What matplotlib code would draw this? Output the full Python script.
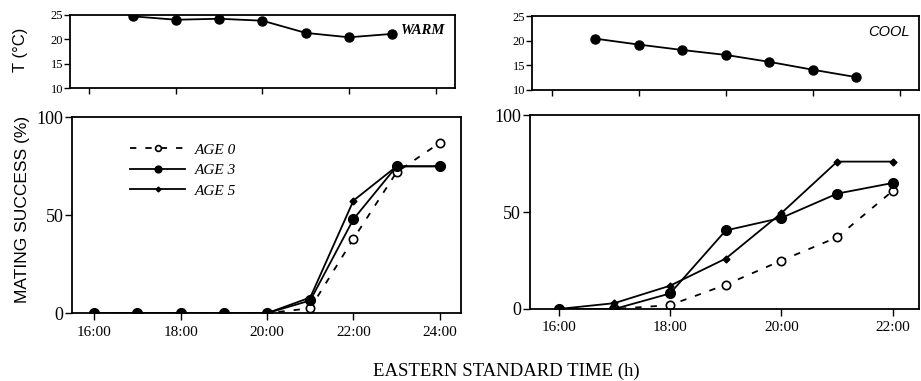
import numpy as np
import matplotlib
matplotlib.use('Agg')
import matplotlib.pyplot as plt

# temperaturas (horas 17..23)
temp_hours = [17, 18, 19, 20, 21, 22, 23]
temp_warm = [24.7, 24.0, 24.2, 23.8, 21.3, 20.4, 21.1]
temp_cool = [20.4, 19.2, 18.1, 17.1, 15.7, 14.1, 12.6]

# exito de apareamiento, ensayo calido (16..24 h)
warm_hours = [16, 17, 18, 19, 20, 21, 22, 23, 24]
warm_age0 = [0, 0, 0, 0, 0, 2.5, 38, 72, 87]
warm_age3 = [0, 0, 0, 0, 0, 6.5, 48, 75, 75]
warm_age5 = [0, 0, 0, 0, 0, 8, 57.5, 75, 75]

# ensayo frio (16..22 h)
cool_hours = [16, 17, 18, 19, 20, 21, 22]
cool_age0 = [0, 0, 2, 12.5, 25, 37, 61]
cool_age3 = [0, 0, 8, 40.5, 47, 59.5, 65]
cool_age5 = [0, 3, 12, 26, 49.5, 76, 76]

tick_hours = [16, 18, 20, 22, 24]
tick_labels = ['16:00', '18:00', '20:00', '22:00', '24:00']

serif = 'Liberation Serif'
sans = 'Liberation Sans'
plt.rcParams['font.family'] = serif
plt.rcParams['axes.linewidth'] = 1.3

fig = plt.figure(figsize=(9.21, 3.81), dpi=100)

ax_tw = fig.add_axes([0.076, 0.769, 0.418, 0.192])
ax_tc = fig.add_axes([0.578, 0.764, 0.420, 0.194])
ax_w = fig.add_axes([0.078, 0.178, 0.423, 0.514])
ax_c = fig.add_axes([0.575, 0.189, 0.423, 0.509])

# paneles de temperatura
for ax, temps, name in [(ax_tw, temp_warm, 'WARM'), (ax_tc, temp_cool, 'COOL')]:
    ax.plot(temp_hours, temps, color='black', lw=1.3, marker='o', ms=6.5)
    ax.set_xlim(15.55, 24.45)
    ax.set_ylim(10, 25)
    ax.set_yticks([10, 15, 20, 25])
    ax.set_xticks(tick_hours)
    ax.set_xticklabels([])
    ax.tick_params(labelsize=9, length=4, width=1, direction='out', pad=1)
    ax.text(0.975, 0.79, name, transform=ax.transAxes, ha='right', va='center',
            fontsize=10.5, style='italic', fontweight='bold' if name == 'WARM' else 'normal',
            family=serif if name == 'WARM' else sans)

dash = (0, (3.5, 5))

def panel(ax, hours, a0, a3, a5, xmax, labels):
    ax.plot(hours, a0, color='black', lw=1.3, ls=dash, marker='o', ms=6,
            mfc='white', mec='black', mew=1.2, label='AGE 0')
    ax.plot(hours, a3, color='black', lw=1.3, marker='o', ms=7, label='AGE 3')
    ax.plot(hours, a5, color='black', lw=1.3, marker='D', ms=3.5, label='AGE 5')
    ax.set_xlim(15.48, xmax)
    ax.set_ylim(0, 100)
    ax.set_yticks([0, 50, 100])
    ax.set_xticks(tick_hours[:len(labels)])
    ax.set_xticklabels(labels)
    ax.tick_params(axis='y', labelsize=13, length=5, width=1, pad=1)
    ax.tick_params(axis='x', labelsize=11, length=5, width=1, pad=4)

panel(ax_w, warm_hours, warm_age0, warm_age3, warm_age5, 24.5, tick_labels)
panel(ax_c, cool_hours, cool_age0, cool_age3, cool_age5, 22.47, tick_labels[:4])

leg = ax_w.legend(loc='upper left', bbox_to_anchor=(0.115, 0.94), frameon=False,
                  handlelength=3.6, handletextpad=0.6, labelspacing=0.45,
                  markerscale=0.7, prop={'family': serif, 'style': 'italic', 'size': 11})

fig.text(0.022, 0.87, 'T (°C)', rotation=90, ha='center', va='center',
         fontsize=12, family=sans)
fig.text(0.024, 0.45, 'MATING SUCCESS (%)', rotation=90, ha='center', va='center',
         fontsize=12.5, family=sans)
fig.text(0.55, 0.025, 'EASTERN STANDARD TIME (h)', ha='center', va='center',
         fontsize=13.5, family=serif)

fig.savefig('out.png', dpi=100)
